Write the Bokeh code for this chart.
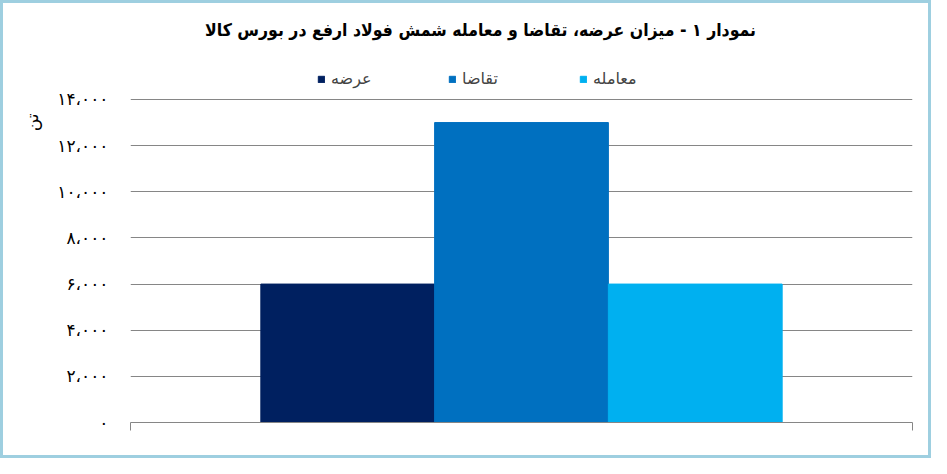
from bokeh.embed import file_html
from bokeh.models import ColumnDataSource, FixedTicker, Label, Range1d, Title
from bokeh.plotting import figure
from bokeh.resources import INLINE

# داده‌ها
series = ["عرضه", "تقاضا", "معامله"]
values = [6000, 13000, 6000]
colors = ["#002060", "#0070C0", "#00B0F0"]

y_ticks = [0, 2000, 4000, 6000, 8000, 10000, 12000, 14000]
y_tick_labels = ["۰", "۲،۰۰۰", "۴،۰۰۰", "۶،۰۰۰", "۸،۰۰۰", "۱۰،۰۰۰", "۱۲،۰۰۰", "۱۴،۰۰۰"]

title_text = "نمودار ۱ - میزان عرضه، تقاضا و معامله شمش فولاد ارفع در بورس کالا"
y_label = "تن"

FONT = "DejaVu Sans"
GRID = "#868686"

# one category, three bars side by side in the middle of the axis
pad = 0.75
x_end = len(series) + 2 * pad
x_pos = [pad + i + 0.5 for i in range(len(series))]

source = ColumnDataSource(dict(x=x_pos, top=values, series=series, color=colors))

# frame reaches the top of the canvas so title and legend can sit inside it
p = figure(width=925, height=452, output_backend="svg", toolbar_location=None,
           x_range=Range1d(0, x_end), y_range=Range1d(0, 18160),
           min_border_left=127, min_border_right=22, min_border_top=0,
           min_border_bottom=39,
           styles={"border": "3px solid #9ecfe0", "box-sizing": "content-box"})

p.vbar(x="x", top="top", width=1, color="color", source=source,
       legend_field="series")

p.outline_line_color = None
p.xgrid.grid_line_color = None
p.ygrid.grid_line_color = GRID
p.ygrid.ticker = FixedTicker(ticks=y_ticks)

p.yaxis.ticker = FixedTicker(ticks=y_ticks)
p.yaxis.major_label_overrides = dict(zip(y_ticks, y_tick_labels))
p.yaxis.axis_line_color = None
p.yaxis.major_tick_line_color = None
p.yaxis.minor_tick_line_color = None
p.yaxis.major_tick_out = 0
p.yaxis.major_label_standoff = 22
p.yaxis.major_label_text_font = FONT
p.yaxis.major_label_text_font_size = "17px"
p.yaxis.major_label_text_color = "black"

p.xaxis.ticker = FixedTicker(ticks=[0, x_end])
p.xaxis.major_label_overrides = {0: "", x_end: ""}
p.xaxis.axis_line_color = GRID
p.xaxis.major_tick_line_color = GRID
p.xaxis.major_tick_in = 0
p.xaxis.major_tick_out = 8
p.xaxis.minor_tick_line_color = None

# unit label near the top of the value axis
p.add_layout(Title(text=y_label, align="right", offset=110, standoff=26,
                   text_font=FONT, text_font_size="17px",
                   text_font_style="normal", text_color="black"), "left")

p.legend.orientation = "horizontal"
p.legend.location = (187, 334)
p.legend.padding = 0
p.legend.margin = 0
p.legend.spacing = 73
p.legend.glyph_width = 8
p.legend.glyph_height = 8
p.legend.label_standoff = 6
p.legend.label_width = 44
p.legend.label_text_font = FONT
p.legend.label_text_font_size = "16px"
p.legend.border_line_color = None
p.legend.background_fill_alpha = 0

p.add_layout(Label(x=2.014, y=16990, text=title_text, text_align="center",
                   text_baseline="middle", text_font=FONT + " Condensed",
                   text_font_size="17.5px", text_font_style="bold",
                   text_color="black"))

open("out.html", "w").write(file_html(p, INLINE))
